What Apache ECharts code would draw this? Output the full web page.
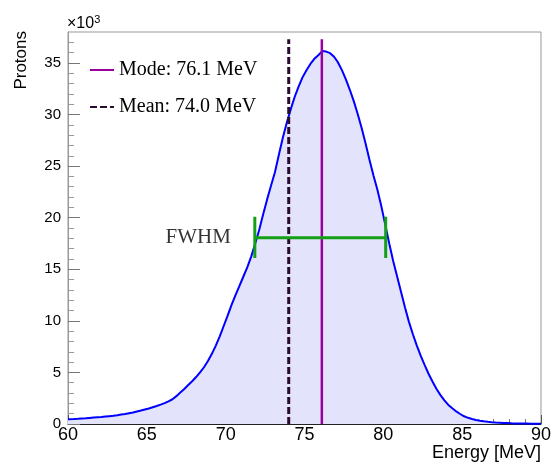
<!DOCTYPE html>
<html>
<head>
<meta charset="utf-8">
<script src="https://cdn.jsdelivr.net/npm/echarts@6/dist/echarts.min.js"></script>
<style>html,body{margin:0;padding:0;background:#fff}#c{width:554px;height:463px}</style>
</head>
<body>
<div id="c"></div>
<script>
// Histogram: bins of 0.25 MeV starting at 60 MeV, counts in units of 10^3 protons
const binStart = 60;
const binWidth = 0.25;
const counts = [
  0.47,0.49,0.51,0.54,0.56,0.59,0.62,0.65,0.68,0.72,0.76,0.80,
  0.85,0.91,0.97,1.05,1.12,1.22,1.31,1.41,1.51,1.63,1.75,1.88,
  2.02,2.20,2.40,2.70,3.05,3.40,3.78,4.15,4.55,5.00,5.50,6.10,
  6.80,7.60,8.50,9.50,10.50,11.55,12.50,13.40,14.30,15.20,16.25,17.50,
  18.80,20.30,21.75,23.10,24.40,26.10,27.75,29.20,30.50,31.70,32.70,33.60,
  34.30,34.90,35.40,35.75,36.15,36.10,35.95,35.60,35.05,34.30,33.40,32.40,
  31.30,30.05,28.70,27.20,25.60,24.10,22.70,21.10,19.30,17.50,15.80,14.30,
  12.80,11.30,9.90,8.70,7.60,6.60,5.70,4.85,4.10,3.40,2.80,2.30,
  1.85,1.52,1.22,0.97,0.75,0.60,0.48,0.39,0.32,0.26,0.21,0.17,
  0.14,0.12,0.10,0.085,0.07,0.06,0.05,0.045,0.04,0.035,0.03,0.03
];
const modeE = 76.1;
const meanE = 74.0;
const lineTop = 37.3;
const fwhmLow = 71.85;
const fwhmHigh = 80.15;
const halfMax = 18.05;
const barLow = 16.1;
const barHigh = 20.1;
const yTicks = [0, 5, 10, 15, 20, 25, 30, 35];

// histogram outline through bin centres, closed at the axis range ends
const histData = [[binStart, counts[0]]];
counts.forEach((v, i) => histData.push([binStart + (i + 0.5) * binWidth, v]));
histData.push([binStart + counts.length * binWidth, counts[counts.length - 1]]);

const sans = 'Liberation Sans';
const serif = 'Liberation Serif';

const chart = echarts.init(document.getElementById('c'), null, {renderer: 'canvas'});
chart.setOption({
  animation: false,
  backgroundColor: '#fff',
  grid: {left: 68, right: 11, top: 32, bottom: 39, show: true, borderColor: '#999', borderWidth: 1},
  xAxis: {
    type: 'value', min: 60, max: 90, interval: 5,
    name: 'Energy [MeV]', nameLocation: 'end', nameGap: 0,
    nameTextStyle: {fontFamily: sans, fontSize: 18, color: '#000', align: 'right', verticalAlign: 'top', padding: [20, 0, 0, 0]},
    axisLine: {onZero: false, lineStyle: {color: '#222', width: 1}},
    axisTick: {inside: true, length: 9, lineStyle: {color: '#555'}},
    minorTick: {show: true, splitNumber: 5, length: 5, lineStyle: {color: '#777'}},
    axisLabel: {fontFamily: sans, fontSize: 18, color: '#000', margin: 2},
    splitLine: {show: false}
  },
  yAxis: {
    type: 'value', min: 0, max: 38, interval: 5,
    axisLine: {show: true, lineStyle: {color: '#999', width: 1}},
    axisTick: {inside: true, length: 12, lineStyle: {color: '#777'}, customValues: yTicks},
    minorTick: {show: true, splitNumber: 5, length: 6, lineStyle: {color: '#999'}},
    axisLabel: {fontFamily: sans, fontSize: 15, color: '#000', margin: 7, customValues: yTicks},
    splitLine: {show: false}
  },
  legend: {
    left: 84, top: 55, orient: 'vertical', itemGap: 17,
    itemWidth: 24, itemHeight: 14,
    itemStyle: {opacity: 0},
    textStyle: {fontFamily: serif, fontSize: 20, color: '#000'},
    data: ['Mode: 76.1 MeV', 'Mean: 74.0 MeV']
  },
  graphic: [
    {type: 'text', left: 13, top: 31, rotation: Math.PI / 2,
     style: {text: 'Protons', font: '17px "Liberation Sans"', fill: '#000'}},
    {type: 'text', left: 67, top: 14,
     style: {rich: {a: {fontFamily: sans, fontSize: 16, fill: '#000'}, s: {fontFamily: sans, fontSize: 11, fill: '#000', verticalAlign: 'top', padding: [0,0,8,0]}}, text: '{a|×10}{s|3}'}}
  ],
  series: [
    {
      type: 'line', name: 'hist', data: histData, symbol: 'none',
      lineStyle: {color: '#0000ff', width: 2},
      areaStyle: {color: '#e3e3fb', opacity: 1},
      z: 2
    },
    {
      type: 'line', name: 'Mode: 76.1 MeV', data: [[modeE, 0], [modeE, lineTop]], symbol: 'none',
      lineStyle: {color: '#9900a0', width: 2.5}, itemStyle: {color: '#9900a0'}, z: 4
    },
    {
      type: 'line', name: 'Mean: 74.0 MeV', data: [[meanE, 0], [meanE, lineTop]], symbol: 'none',
      lineStyle: {color: '#2a0a30', width: 3, type: [7, 3]}, itemStyle: {color: '#2a0a30'}, z: 4
    },
    {
      type: 'line', name: 'FWHM', data: [[fwhmLow, halfMax], [fwhmHigh, halfMax]], symbol: 'none',
      lineStyle: {color: '#14a014', width: 3}, z: 5
    },
    {
      type: 'line', name: 'fwhmL', data: [[fwhmLow, barLow], [fwhmLow, barHigh]], symbol: 'none',
      lineStyle: {color: '#14a014', width: 3}, z: 5
    },
    {
      type: 'line', name: 'fwhmR', data: [[fwhmHigh, barLow], [fwhmHigh, barHigh]], symbol: 'none',
      lineStyle: {color: '#14a014', width: 3}, z: 5
    },
    {
      type: 'scatter', name: 'fwhmText', data: [[fwhmLow, halfMax]], symbolSize: 0, z: 6,
      label: {show: true, position: 'left', distance: 24, formatter: 'FWHM', fontFamily: serif, fontSize: 21, color: '#000'}
    }
  ]
});
</script>
</body>
</html>
